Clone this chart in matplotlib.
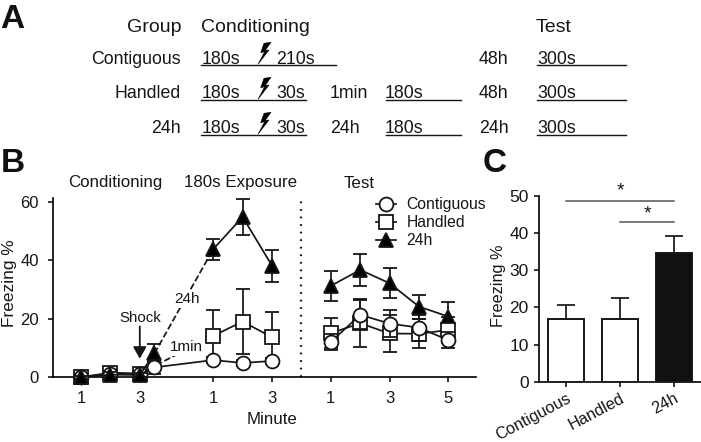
"""Freezing figure: protocol schematic (A), time course (B), test bars (C)."""

from __future__ import annotations

import matplotlib

matplotlib.use("Agg")
import matplotlib.pyplot as plt  # noqa: E402
from matplotlib.lines import Line2D  # noqa: E402
from matplotlib.patches import Polygon  # noqa: E402

W, H = 701, 442

# panel B, x in minute slots
x_cond = [1, 2, 3]
x_shock = 3.5
x_exp = [5.5, 6.5, 7.5]
x_test = [9.5, 10.5, 11.5, 12.5, 13.5]
b_ticks = [1, 3, 5.5, 7.5, 9.5, 11.5, 13.5]
b_ticklabels = ["1", "3", "1", "3", "1", "3", "5"]

cont_cond = [0.2, 1.2, 1.0]
cont_cond_err = [0.8, 1.0, 1.2]
hand_cond = [0.0, 1.6, 1.3]
hand_cond_err = [0.5, 1.0, 1.0]
h24_cond = [0.0, 0.9, 0.8]
h24_cond_err = [0.5, 0.8, 0.8]

cont_shock, cont_shock_err = 3.4, 2.4
h24_shock, h24_shock_err = 8.2, 3.1

cont_exp = [5.9, 4.9, 5.6]
cont_exp_err = [1.0, 1.0, 1.0]
hand_exp = [14.2, 19.1, 13.7]
hand_exp_err = [9.0, 11.0, 8.8]
h24_exp = [43.9, 54.9, 38.2]
h24_exp_err = [3.6, 6.2, 5.5]

cont_test = [12.1, 21.4, 18.4, 17.0, 12.7]
cont_test_err = [2.7, 5.0, 4.7, 4.4, 2.8]
hand_test = [15.1, 18.5, 15.0, 14.9, 16.2]
hand_test_err = [5.2, 8.2, 6.5, 5.0, 4.5]
h24_test = [31.3, 36.8, 32.2, 24.2, 20.8]
h24_test_err = [5.2, 5.5, 5.1, 4.1, 4.9]

# panel C
groups = ["Contiguous", "Handled", "24h"]
bar_means = [16.9, 16.9, 34.7]
bar_errs = [3.85, 5.6, 4.6]

# panel A: (text, x, baseline y)
a_headers = [("Conditioning", 201, 31.5), ("Test", 536, 31.5)]
a_header_right = [("Group", 181, 31.5)]
a_rows = [("Contiguous", 181, 63.5), ("Handled", 181, 98), ("24h", 181, 133)]
a_cells = [
    ("180s", 202, 63.5), ("210s", 276, 63.5), ("48h", 479, 63.5), ("300s", 537, 63.5),
    ("180s", 202, 98), ("30s", 276, 98), ("1min", 330, 98), ("180s", 385, 98),
    ("48h", 479, 98), ("300s", 537, 98),
    ("180s", 202, 133), ("30s", 276, 133), ("24h", 330, 133), ("180s", 385, 133),
    ("24h", 479, 133), ("300s", 537, 133),
]
# (x0, x1, y)
a_rules = [
    (201, 336, 65), (537, 626, 65),
    (201, 306, 100), (386, 461, 100), (537, 626, 100),
    (201, 306, 135), (386, 461, 135), (537, 626, 135),
]
bolt_rows = [65, 100, 135]
bolt_shape = [(13, -22.7), (6, -21.7), (2.7, -12.3), (6.7, -13.3),
              (0, -0.7), (11, -15), (7.3, -14.7)]

plt.rcParams["font.family"] = ["Liberation Sans", "DejaVu Sans"]
plt.rcParams["axes.linewidth"] = 1.2

INK = "#161616"
LW = 1.25


def px_axes(fig, left, top, right, bottom):
    return fig.add_axes(
        [left / W, 1 - bottom / H, (right - left) / W, (bottom - top) / H]
    )


def series(ax, x, y, err, marker, face, z, ms=10):
    ax.errorbar(
        x, y, yerr=err, fmt="-", color=INK, lw=LW, marker=marker, ms=ms,
        mfc=face, mec=INK, mew=1.3, elinewidth=LW, capsize=4.8, capthick=LW,
        clip_on=False, zorder=z,
    )


def link(ax, x, y, style, z):
    ax.plot(x, y, style, color=INK, lw=LW, zorder=z, clip_on=False)


fig = plt.figure(figsize=(W / 100, H / 100), dpi=100)
fig.patch.set_facecolor("white")

# overlay in pixel coords for the schematic and the panel letters
ov = fig.add_axes([0, 0, 1, 1])
ov.set_xlim(0, W)
ov.set_ylim(H, 0)
ov.axis("off")

for txt, x, y in a_headers:
    ov.text(x, y, txt, fontsize=14, ha="left", va="baseline", color=INK)
for txt, x, y in a_header_right:
    ov.text(x, y, txt, fontsize=14, ha="right", va="baseline", color=INK)
for txt, x, y in a_rows:
    ov.text(x, y, txt, fontsize=12.8, ha="right", va="baseline", color=INK)
for txt, x, y in a_cells:
    ov.text(x, y, txt, fontsize=12.8, ha="left", va="baseline", color=INK)
for x0, x1, y in a_rules:
    ov.plot([x0, x1], [y, y], color=INK, lw=1.0)
for y in bolt_rows:
    pts = [(258 + dx, y + dy) for dx, dy in bolt_shape]
    ov.add_patch(Polygon(pts, closed=True, fc="black", ec="black", lw=0.4))

for letter, x, y in [("A", 0, 19), ("B", 1, 163), ("C", 483, 163)]:
    ov.text(x, y, letter, fontsize=24, fontweight="bold", ha="left", va="center",
            color="#111111")

for txt, x0 in [("Conditioning", 68), ("180s Exposure", 184), ("Test", 344)]:
    ov.text(x0, 187.5, txt, fontsize=12.2, ha="left", va="baseline", color=INK)
ov.text(298, 424.5, "Minute", fontsize=12.2, ha="right", va="baseline", color=INK)

# --- panel B
ax = px_axes(fig, 52.5, 198, 476, 377.3)
ax.patch.set_alpha(0)
ax.set_xlim(0.03, 14.44)
ax.set_ylim(0, 61.4)
for s in ("top", "right"):
    ax.spines[s].set_visible(False)
ax.set_xticks(b_ticks, labels=b_ticklabels)
ax.set_yticks([0, 20, 40, 60])
ax.tick_params(length=3.8, width=1.2, labelsize=12, pad=6, colors=INK)
ax.set_ylabel("Freezing %", fontsize=12.4, color=INK)
ax.yaxis.set_label_coords((17 - 52.5) / 423.5, 0.523)
ax.axvline(8.5, color=INK, lw=1.6, ls=(0, (0.8, 2.6)), zorder=1)

# conditioning: triangles end up on top
series(ax, x_cond, hand_cond, hand_cond_err, "s", "white", 3)
series(ax, x_cond, cont_cond, cont_cond_err, "o", "white", 4)
series(ax, x_cond, h24_cond, h24_cond_err, "^", "black", 5)

# shock and bridges to the exposure session
link(ax, [x_cond[-1], x_shock], [h24_cond[-1], h24_shock], "-", 5)
link(ax, [x_cond[-1], x_shock], [cont_cond[-1], cont_shock], "-", 5)
link(ax, [x_shock, x_exp[0]], [h24_shock, h24_exp[0]], "--", 2)
link(ax, [x_cond[-1], x_exp[0]], [hand_cond[-1], hand_exp[0]], "--", 2)
link(ax, [x_shock, x_exp[0]], [cont_shock, cont_exp[0]], "-", 6)
series(ax, [x_shock], [h24_shock], [h24_shock_err], "^", "black", 6)
series(ax, [x_shock], [cont_shock], [cont_shock_err], "o", "white", 7)

series(ax, x_exp, h24_exp, h24_exp_err, "^", "black", 5)
series(ax, x_exp, hand_exp, hand_exp_err, "s", "white", 6)
series(ax, x_exp, cont_exp, cont_exp_err, "o", "white", 7)

series(ax, x_test, h24_test, h24_test_err, "^", "black", 5)
series(ax, x_test, hand_test, hand_test_err, "s", "white", 6)
series(ax, x_test, cont_test, cont_test_err, "o", "white", 7)

ax.annotate(
    "", xy=(3, 6.4), xytext=(3, 17.4),
    arrowprops=dict(arrowstyle="-|>,head_width=0.4,head_length=0.7", color=INK,
                    lw=1.3, shrinkA=0, shrinkB=0),
    zorder=8,
)
ax.text(3.02, 20.4, "Shock", fontsize=10.8, ha="center", va="center", color=INK)
wbox = dict(fc="white", ec="none", pad=1.2)
ax.text(4.6, 26.8, "24h", fontsize=11, ha="center", va="center", color=INK,
        bbox=wbox, zorder=3)
ax.text(4.57, 10.4, "1min", fontsize=11, ha="center", va="center", color=INK,
        bbox=wbox, zorder=3)

handles = [
    Line2D([], [], color=INK, lw=LW, marker="o", ms=10, mfc="white", mec=INK, mew=1.3),
    Line2D([], [], color=INK, lw=LW, marker="s", ms=10, mfc="white", mec=INK, mew=1.3),
    Line2D([], [], color=INK, lw=LW, marker="^", ms=10, mfc="black", mec=INK, mew=1.3),
]
leg = ax.legend(
    handles, groups, loc="upper left", frameon=False, fontsize=11.3,
    bbox_to_anchor=(376 / W, 1 - 197 / H), bbox_transform=fig.transFigure,
    borderpad=0, borderaxespad=0, handlelength=1.3, handletextpad=0.65,
    labelspacing=0.2,
)
for t in leg.get_texts():
    t.set_color(INK)

# --- panel C
ac = px_axes(fig, 539, 195.7, 701, 382)
ac.patch.set_alpha(0)
ac.set_xlim(-0.5, 2.5)
ac.set_ylim(0, 50)
for s in ("top", "right"):
    ac.spines[s].set_visible(False)
ac.bar(range(3), bar_means, width=0.67, color=["white", "white", "#111111"],
       edgecolor=INK, linewidth=1.4, zorder=3)
ac.errorbar(range(3), bar_means, yerr=[[0, 0, 0], bar_errs], fmt="none", ecolor=INK,
            elinewidth=LW, capsize=6.5, capthick=LW, zorder=2)
ac.set_xticks(range(3))
ac.set_xticklabels(groups, rotation=28, ha="right", rotation_mode="anchor")
ac.set_yticks(range(0, 51, 10))
ac.tick_params(length=3.8, width=1.2, labelsize=12.5, colors=INK)
ac.tick_params(axis="x", labelsize=11.8, pad=2.5)
ac.set_ylabel("Freezing %", fontsize=11.7, color=INK)
ac.yaxis.set_label_coords((506 - 539) / 162, 0.515)
ac.plot([0, 2], [48.6, 48.6], color="#555555", lw=1.1, clip_on=False)
ac.plot([1, 2], [43, 43], color="#555555", lw=1.1, clip_on=False)
ac.text(1, 51.3, "*", fontsize=14, ha="center", va="center", color=INK)
ac.text(1.5, 45.2, "*", fontsize=14, ha="center", va="center", color=INK)

fig.savefig("out.png", dpi=100)
plt.close(fig)
